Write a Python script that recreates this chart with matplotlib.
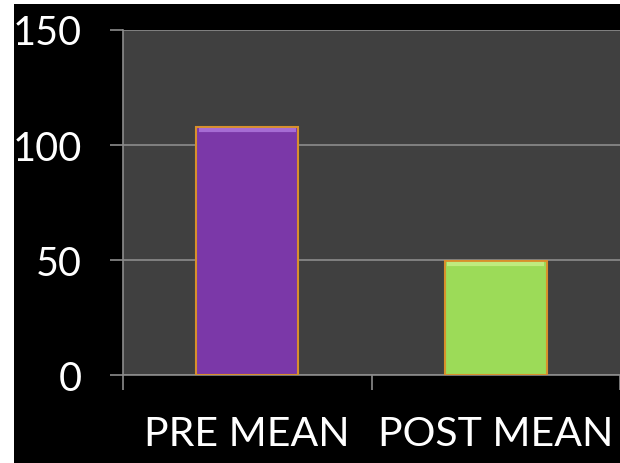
import matplotlib
matplotlib.use('Agg')
import matplotlib.pyplot as plt
from matplotlib.patches import Rectangle
from matplotlib.ticker import FixedLocator

categories = ['PRE MEAN', 'POST MEAN']
means = [107.5, 49.6]
bar_colors = ['#7b38a8', '#9cdb58']
highlight_colors = ['#b27ae0', '#c8f08a']
y_ticks = [0, 50, 100, 150]

plt.rcParams['font.family'] = ['Lato', 'DejaVu Sans']

fig = plt.figure(figsize=(6.2, 4.64), dpi=100, facecolor='white')
# black slide background, white margin on the left and top
fig.patches.append(Rectangle((14 / 620, 0), 1, 1 - 5 / 464, transform=fig.transFigure,
                             facecolor='black', edgecolor='none', zorder=-10))

ax = fig.add_axes([123 / 620, 88 / 464, 497 / 620, 345.5 / 464])
ax.set_zorder(1)
ax.set_facecolor('#404040')

x = list(range(len(categories)))
width = 0.41
ax.bar(x, means, width=width, color=bar_colors, edgecolor='#d8902c', linewidth=1.5, zorder=3)
# light bevel along the top of each bar
for xi, m, hc in zip(x, means, highlight_colors):
    ax.hlines(m - 1.3, xi - width / 2 + 0.01, xi + width / 2 - 0.01, color=hc,
              linewidth=3, alpha=0.8, zorder=4)

ax.set_xlim(-0.5, len(categories) - 0.5)
ax.set_ylim(0, 150)
ax.set_yticks(y_ticks)
ax.set_yticklabels([str(v) for v in y_ticks])
ax.set_xticks(x)
ax.set_xticklabels(categories)
ax.xaxis.set_minor_locator(FixedLocator([-0.5, 0.5, 1.5]))

ax.grid(axis='y', color='#8c8c8c', linewidth=1.2, zorder=1)
for side in ['top', 'right']:
    ax.spines[side].set_visible(False)
for side in ['left', 'bottom']:
    ax.spines[side].set_color('#8c8c8c')
    ax.spines[side].set_linewidth(1.2)

ax.tick_params(axis='y', colors='#8c8c8c', labelcolor='white', labelsize=28.5,
               length=9.5, width=1.2, pad=20)
ax.tick_params(axis='x', which='major', length=0, labelcolor='white', labelsize=29.5, pad=29)
ax.tick_params(axis='x', which='minor', length=11, width=1.2, color='#8c8c8c')

fig.savefig('out.png', dpi=100, facecolor=fig.get_facecolor())
